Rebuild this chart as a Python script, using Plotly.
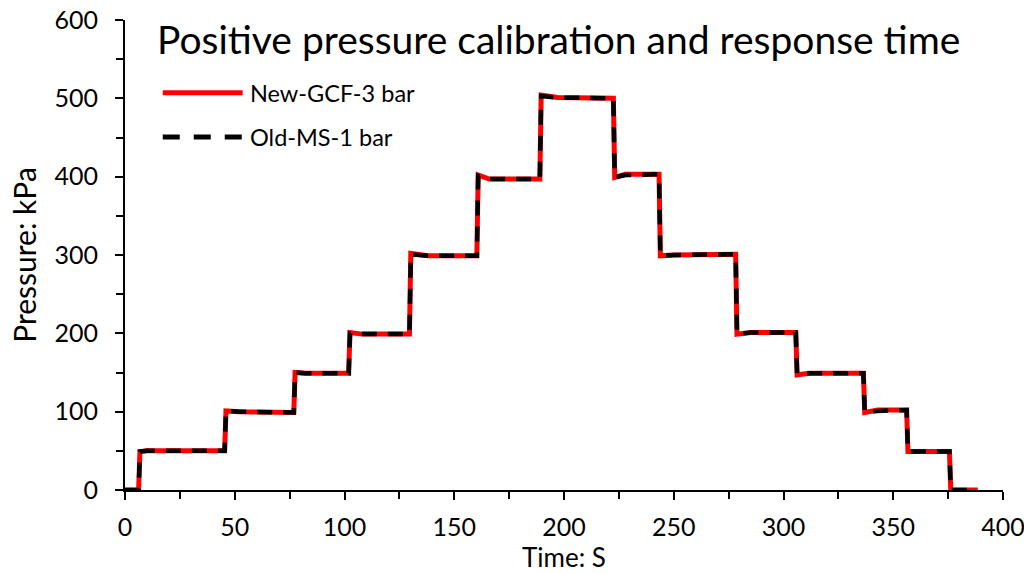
import plotly.graph_objects as go

# ---- Data ----
time_new = [0, 6.2, 6.8, 10, 45.4, 46.0, 52, 76.9, 77.5, 82, 101.9, 102.5, 108,
            129.6, 130.2, 138, 160.3, 160.9, 166, 189.0, 189.6, 197, 222.5,
            223.1, 228, 243.3, 243.9, 250, 278.2, 278.8, 285, 305.6, 306.2,
            312, 336.4, 337.0, 343, 356.1, 356.7, 362, 375.6, 376.2, 388.5]
pressure_new = [0, 0, 49, 50, 50, 101, 100, 99, 150, 149, 149, 201, 199,
                199, 302, 299, 299, 402, 397, 397, 504, 501, 500,
                399, 403, 403, 299, 300, 301, 199, 201, 201, 147,
                149, 149, 99, 102, 102, 49, 49, 49, 0, 0]

time_old = [0, 6.2, 6.8, 10, 45.4, 46.0, 52, 76.9, 77.5, 82, 101.9, 102.5, 108,
            129.6, 130.2, 138, 160.3, 160.9, 166, 189.0, 189.6, 197, 222.5,
            223.1, 228, 243.3, 243.9, 250, 278.2, 278.8, 285, 305.6, 306.2,
            312, 336.4, 337.0, 343, 356.1, 356.7, 362, 375.6, 376.2, 388.5]
pressure_old = [0, 0, 49, 50, 50, 101, 100, 99, 150, 149, 149, 200, 199,
                199, 301, 299, 299, 401, 397, 397, 503, 501, 500,
                399, 402, 403, 299, 300, 301, 199, 201, 201, 148,
                149, 149, 99, 101, 102, 49, 49, 49, 0, 0]

series_names = ["New-GCF-3 bar", "Old-MS-1 bar"]
title_text = "Positive pressure calibration and response time"
x_title = "Time: S"
y_title = "Pressure: kPa"

FONT = "Lato"

fig = go.Figure()
fig.add_trace(go.Scatter(x=time_new, y=pressure_new, mode="lines",
                         name=series_names[0],
                         line=dict(color="#FF0000", width=5)))
fig.add_trace(go.Scatter(x=time_old, y=pressure_old, mode="lines",
                         name=series_names[1],
                         line=dict(color="#000000", width=4.5, dash="15px,11px")))

axis_common = dict(
    showline=True, linecolor="black", linewidth=2,
    ticks="outside", ticklen=8, tickwidth=2, tickcolor="black",
    showgrid=False, zeroline=False, automargin=False,
    ticklabeloverflow="allow",
    tickfont=dict(family=FONT, size=25, color="black"),
    minor=dict(ticks="outside", ticklen=7, tickwidth=2, tickcolor="black", showgrid=False),
)

fig.update_xaxes(range=[0, 400], dtick=50, tick0=0, minor_dtick=25,
                 ticklabelstandoff=6,
                 title=dict(text=x_title, font=dict(family=FONT, size=26, color="black"), standoff=2),
                 **axis_common)
fig.update_yaxes(range=[0, 600], dtick=100, tick0=0, minor_dtick=50,
                 ticklabelstandoff=12,
                 title=dict(text=y_title, font=dict(family=FONT, size=30, color="black"), standoff=9),
                 **axis_common)

# manual legend (long sample lines like the reference)
legend_rows = [(0.845, dict(color="#FF0000", width=5)),
               (0.751, dict(color="#000000", width=5, dash="17px,14px"))]
for (yy, ln), name in zip(legend_rows, series_names):
    fig.add_shape(type="line", xref="paper", yref="paper",
                  x0=0.043, x1=0.134, y0=yy, y1=yy, line=ln)
    fig.add_annotation(xref="paper", yref="paper", x=0.140, y=yy,
                       text=name, showarrow=False, xanchor="left", yanchor="middle",
                       font=dict(family=FONT, size=23.5, color="black"))

fig.add_annotation(xref="paper", yref="paper", x=0.494, y=1.012,
                   text=title_text, showarrow=False, xanchor="center", yanchor="top",
                   font=dict(family=FONT, size=39, color="black"))

fig.update_layout(
    width=1024, height=574,
    margin=dict(l=125, r=21, t=20, b=84),
    paper_bgcolor="white", plot_bgcolor="white",
    showlegend=False,
)

fig.write_html("out.html", config={"displayModeBar": False},
               post_script="document.body.style.margin='0';document.body.style.overflow='hidden';")
